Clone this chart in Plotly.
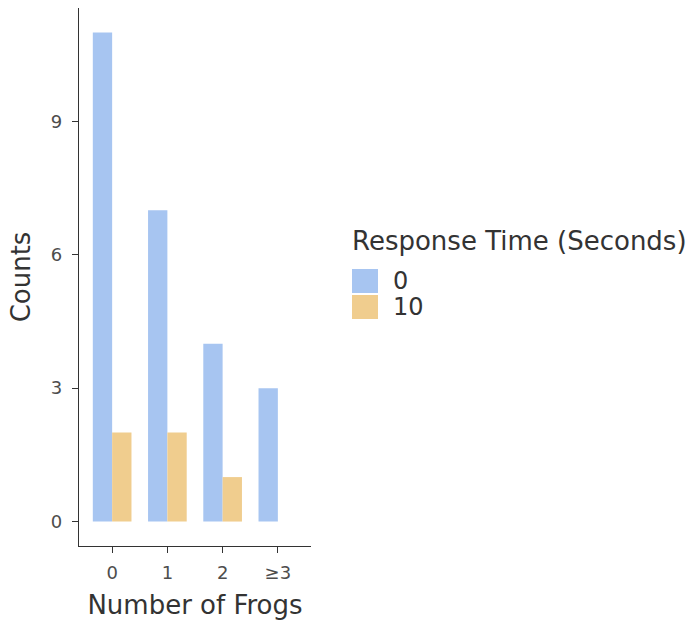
import plotly.graph_objects as go

# Counts of trials by number of frogs, split by response time
frog_counts = ["0", "1", "2", "≥3"]
response_times = ["0", "10"]
counts_rt0 = [11, 7, 4, 3]
counts_rt10 = [2, 2, 1, 0]
series_colors = ["#A7C5F1", "#F0CD8E"]

series_values = [counts_rt0, counts_rt10]

W, H = 695, 630
ML, MR, MT, MB = 79, 384, 8, 84
PW, PH = W - ML - MR, H - MT - MB

FONT = "DejaVu Sans"
INK = "#333333"
TITLE_SIZE = 26
LABEL_SIZE = 24
TICK_SIZE = 18

fig = go.Figure()
for name, vals, col in zip(response_times, series_values, series_colors):
    fig.add_trace(go.Bar(
        x=frog_counts,
        y=vals,
        name=name,
        marker=dict(color=col, line=dict(width=0)),
        showlegend=False,
    ))


def px_x(px):
    return (px - ML) / PW


def px_y(py):
    return 1 - (py - MT) / PH


# Legend: title plus one swatch/label row per series
shapes = []
annotations = [dict(
    text="Response Time (Seconds)", xref="paper", yref="paper",
    x=px_x(350), y=px_y(241), xanchor="left", yanchor="middle",
    showarrow=False, font=dict(family=FONT, size=TITLE_SIZE, color=INK),
)]
row_top, row_h, sw = 268, 26, 26
for i, (name, col) in enumerate(zip(response_times, series_colors)):
    y0 = row_top + i * row_h
    shapes.append(dict(
        type="rect", xref="paper", yref="paper",
        x0=px_x(352), x1=px_x(352 + sw), y0=px_y(y0 + 1), y1=px_y(y0 + row_h - 1),
        fillcolor=col, line=dict(width=0),
    ))
    annotations.append(dict(
        text=name, xref="paper", yref="paper",
        x=px_x(392), y=px_y(y0 + row_h / 2), xanchor="left", yanchor="middle",
        height=row_h - 2, borderpad=0,
        showarrow=False, font=dict(family=FONT, size=LABEL_SIZE, color=INK),
    ))

fig.update_layout(
    width=W, height=H,
    margin=dict(l=ML, r=MR, t=MT, b=MB, pad=0),
    paper_bgcolor="white", plot_bgcolor="white",
    barmode="group", bargap=0.3, bargroupgap=0,
    font=dict(family=FONT, color=INK),
    shapes=shapes, annotations=annotations,
    showlegend=False,
)
fig.update_xaxes(
    type="category", range=[-0.6, 3.6],
    showline=True, linecolor=INK, linewidth=1.3,
    ticks="outside", ticklen=6, tickwidth=1.3, tickcolor=INK,
    ticklabelstandoff=4,
    tickfont=dict(family=FONT, size=TICK_SIZE, color="#4D4D4D"),
    showgrid=False, zeroline=False,
    title=dict(text="Number of Frogs", font=dict(family=FONT, size=TITLE_SIZE, color=INK), standoff=14),
)
fig.update_yaxes(
    range=[-0.55, 11.55], tickvals=[0, 3, 6, 9],
    showline=True, linecolor=INK, linewidth=1.3,
    ticks="outside", ticklen=6, tickwidth=1.3, tickcolor=INK,
    ticklabelstandoff=6,
    tickfont=dict(family=FONT, size=TICK_SIZE, color="#4D4D4D"),
    showgrid=False, zeroline=False,
    title=dict(text="Counts", font=dict(family=FONT, size=TITLE_SIZE, color=INK), standoff=12),
)

fig.write_html("out.html")
